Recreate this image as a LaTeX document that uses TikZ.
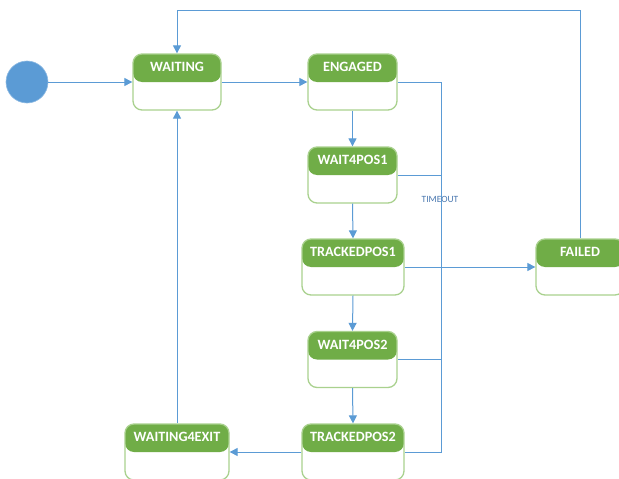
\documentclass[tikz,border=0pt]{standalone}
\usepackage{fontspec}
\setmainfont{Carlito}
\usetikzlibrary{arrows.meta}
\definecolor{hdrgreen}{HTML}{70AD47}
\definecolor{lightgreen}{HTML}{A9D18E}
\definecolor{conncol}{HTML}{5B9BD5}
\definecolor{labelcol}{HTML}{4A78B0}
\tikzset{
  statebox/.style={draw=lightgreen, line width=1.3pt, fill=white, rounded corners=9pt,
    minimum width=#1, minimum height=56pt, inner sep=0pt,
    path picture={\fill[hdrgreen] (path picture bounding box.north west) rectangle (path picture bounding box.east);}},
  statebox/.default=89pt,
  title/.style={text=white, font=\bfseries\fontsize{14.2}{16}\selectfont, inner sep=0pt},
  conn/.style={draw=conncol, line width=1pt},
  arr/.style={conn, -{Triangle[length=8pt,width=8pt]}},
  startdot/.style={circle, fill=conncol, draw=conncol!70!white, line width=0.6pt, minimum size=42pt, inner sep=0pt},
  tlabel/.style={text=labelcol, font=\fontsize{9.5}{11}\selectfont, inner sep=0pt}
}
\begin{document}
\begin{tikzpicture}[x=1pt,y=-1pt]
\clip (0,0) rectangle (619,479);
\fill[white] (0,0) rectangle (619,479);

\node[startdot] (start) at (27,82) {};

\node[statebox=88pt] (waiting) at (177,82) {};
\node[statebox=89pt] (engaged) at (352.5,82) {};
\node[statebox=89pt] (w4p1) at (352.5,175) {};
\node[statebox=102pt] (tp1) at (353,267) {};
\node[statebox=89pt] (w4p2) at (352.5,359.5) {};
\node[statebox=102pt] (tp2) at (353,452) {};
\node[statebox=104pt] (w4exit) at (177,452) {};
\node[statebox=88pt] (failed) at (580,267) {};

\node[title] (waitingT) at ([yshift=-14pt]waiting.north) {WAITING};
\node[title] (engagedT) at ([yshift=-14pt]engaged.north) {ENGAGED};
\node[title] (w4p1T) at ([yshift=-14pt]w4p1.north) {WAIT4POS1};
\node[title] (tp1T) at ([yshift=-14pt]tp1.north) {TRACKEDPOS1};
\node[title] (w4p2T) at ([yshift=-14pt]w4p2.north) {WAIT4POS2};
\node[title] (tp2T) at ([yshift=-14pt]tp2.north) {TRACKEDPOS2};
\node[title] (w4exitT) at ([yshift=-14pt]w4exit.north) {WAITING4EXIT};
\node[title] (failedT) at ([yshift=-14pt]failed.north) {FAILED};

% main flow
\draw[arr] (start) -- (waiting.west);
\draw[arr] (waiting.east) -- (engaged.west);
\draw[arr] (engaged.south) -- (w4p1.north);
\draw[arr] (w4p1.south) -- (tp1.north);
\draw[arr] (tp1.south) -- (w4p2.north);
\draw[arr] (w4p2.south) -- (tp2.north);
\draw[arr] (tp2.west) -- (w4exit.east);
\draw[arr] (w4exit.north) -- (waiting.south);

% failed back to waiting
\coordinate (topR) at (580,10);
\coordinate (topL) at (177,10);
\draw[arr] (failed.north) -- (topR) -- (topL) -- (waiting.north);

% timeout bus
\coordinate (busTop) at (441,82);
\coordinate (bus1) at (441,175);
\coordinate (bus2) at (441,359.5);
\coordinate (busBot) at (441,452);
\draw[conn] (engaged.east) -- (busTop) -- (busBot) -- (tp2.east);
\draw[conn] (w4p1.east) -- (bus1);
\draw[conn] (w4p2.east) -- (bus2);
\draw[arr] (tp1.east) -- (failed.west);

\node[tlabel] (timeout) at (440,199) {TIMEOUT};
\end{tikzpicture}
\end{document}
